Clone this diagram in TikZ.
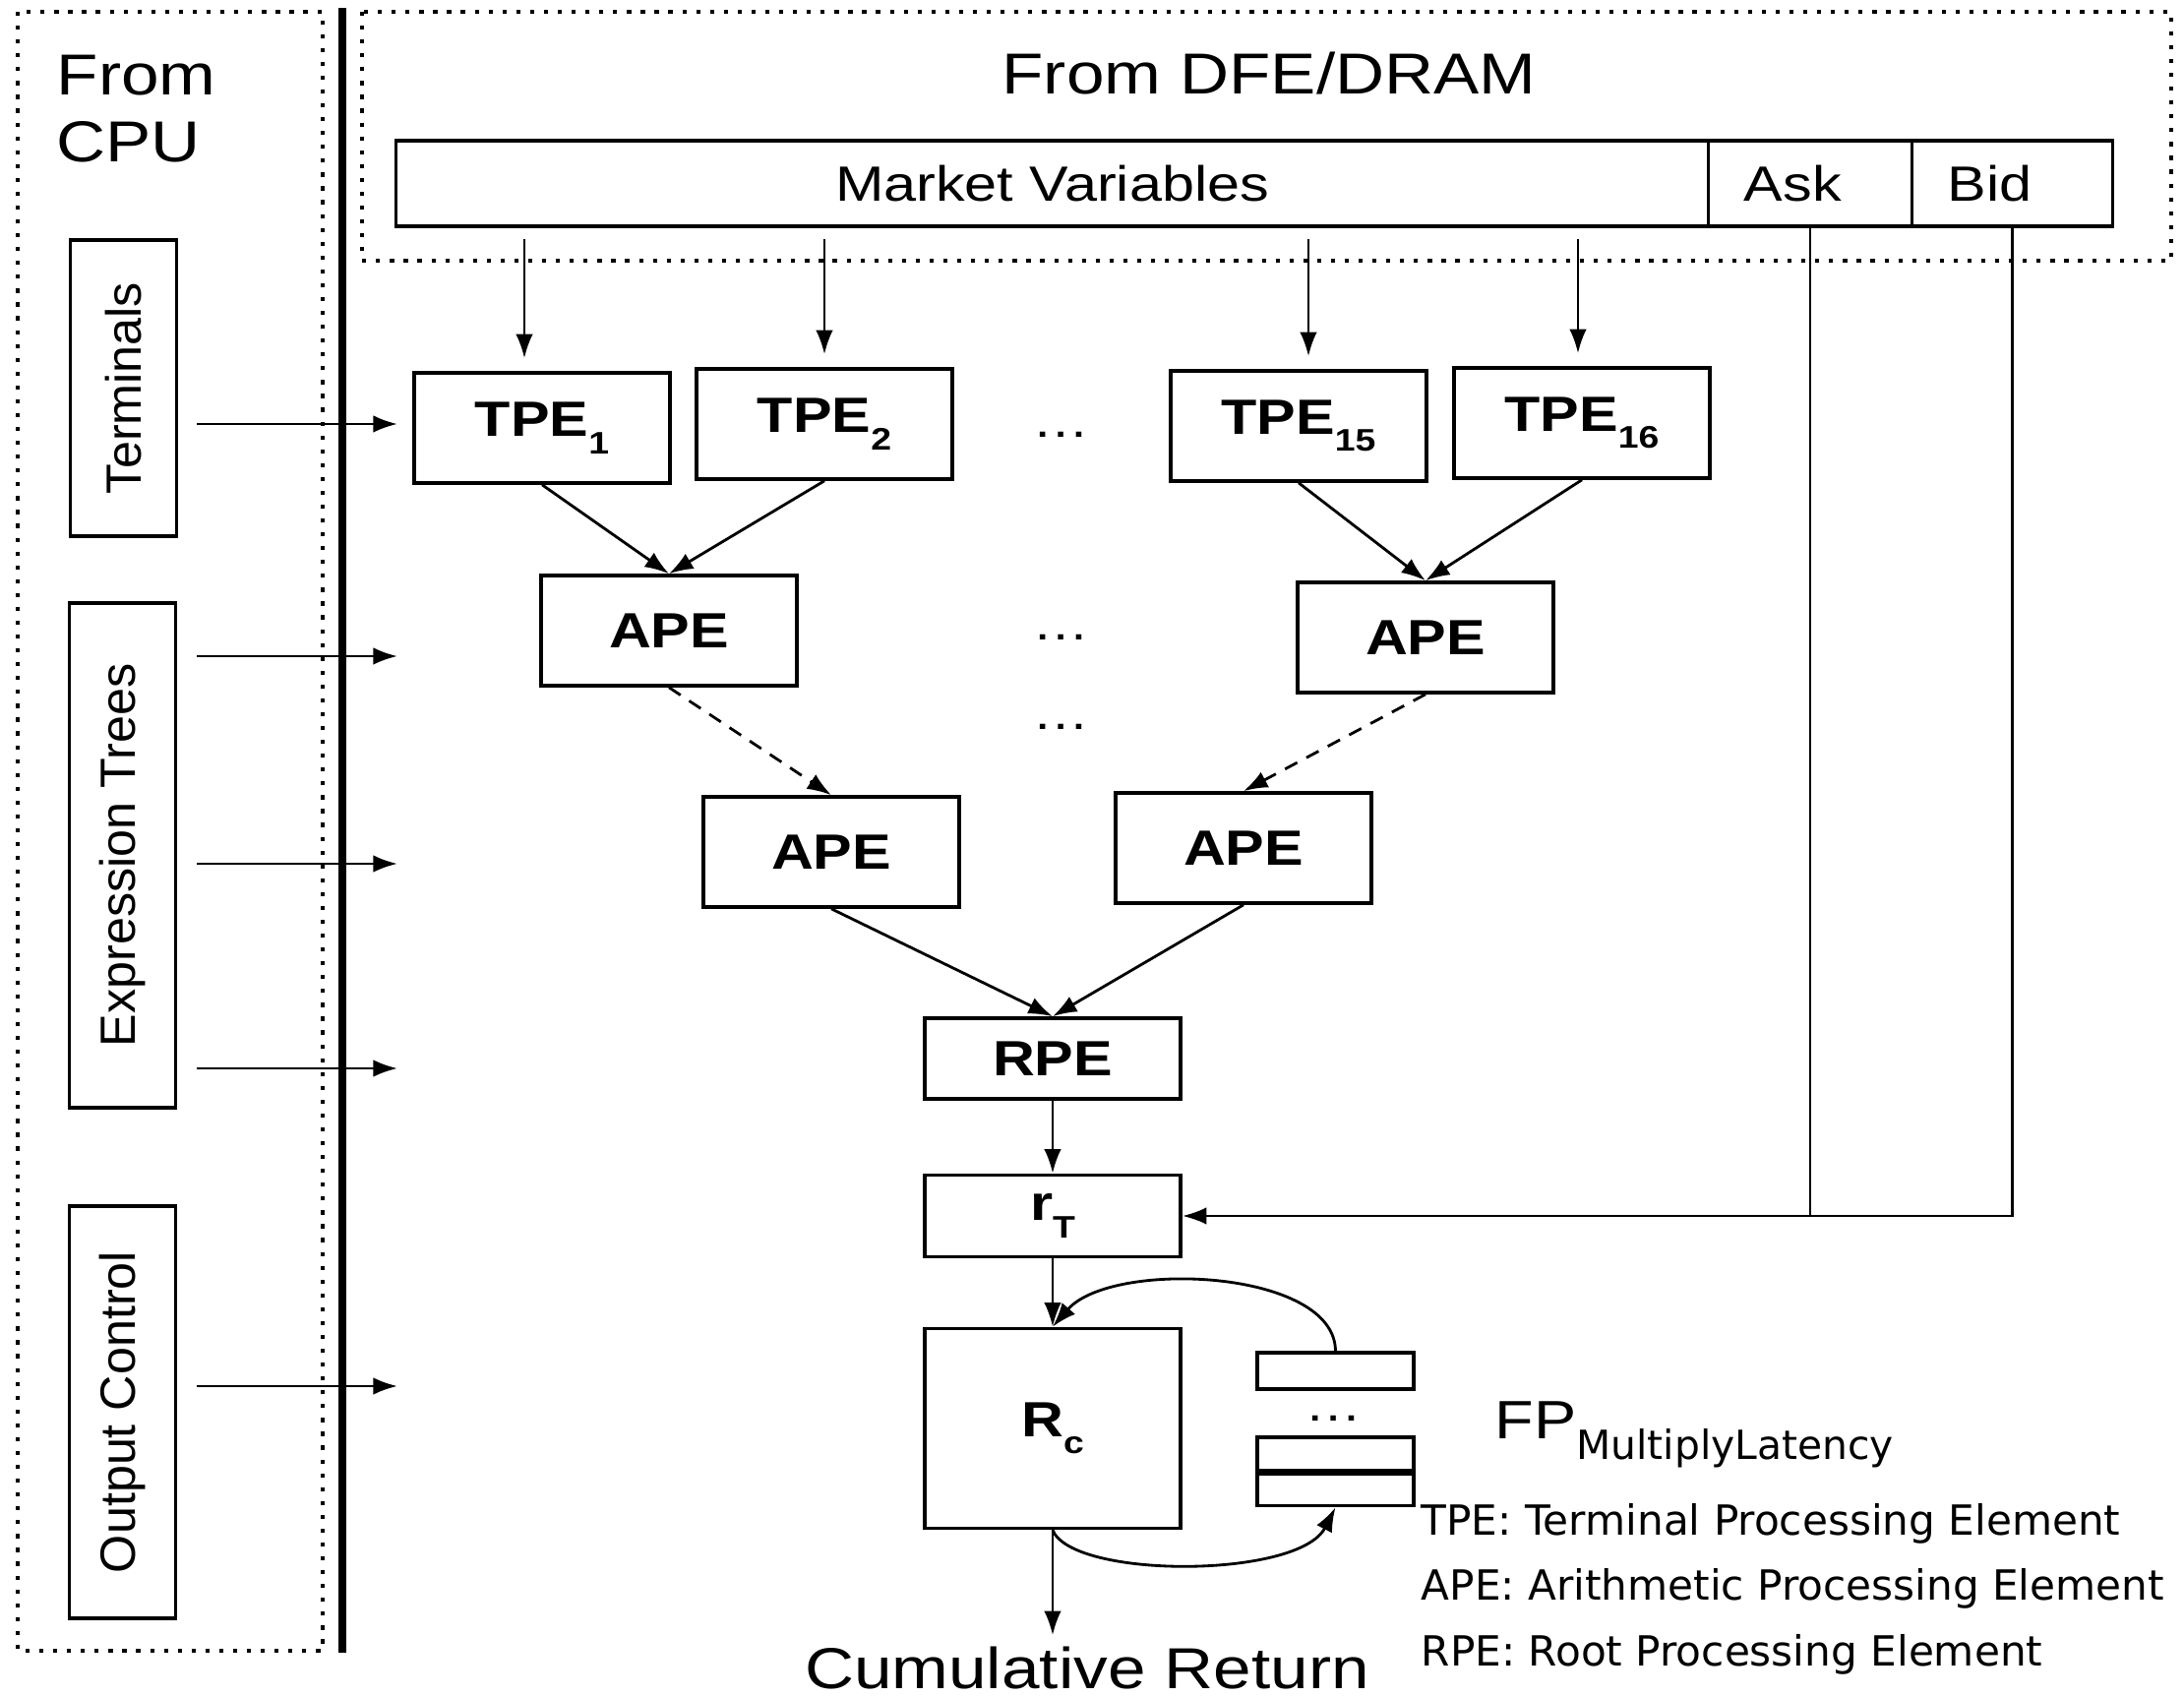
\documentclass[tikz,border=0pt]{standalone}
\usepackage{fontspec}
\setmainfont[FakeStretch=1.18]{Liberation Sans}
\newfontfamily\sidefont{Liberation Sans}
\newfontfamily\notefont{DejaVu Sans}
\usetikzlibrary{arrows.meta,positioning,calc}

% lowered index inside the PE boxes
\newcommand\dn[1]{\raisebox{-5pt}{\fontsize{9}{9}\selectfont #1}}

\tikzset{
  title/.style={font=\fontsize{16.7}{19.6}\selectfont, inner sep=0pt},
  pe/.style={draw, line width=1pt, minimum width=2.6cm, minimum height=1.12cm, inner sep=0pt,
    font=\fontsize{14.3}{16}\selectfont\bfseries},
  src/.style={draw, line width=1pt, minimum height=0.87cm, inner sep=0pt, outer sep=0pt,
    font=\fontsize{14.3}{16}\selectfont},
  side/.style={draw, line width=1pt, minimum height=1.08cm, inner sep=0pt, rotate=90,
    font=\sidefont\fontsize{14.3}{16}\selectfont},
  reg/.style={draw, line width=1pt, minimum width=1.59cm, inner sep=0pt},
  dots/.style={font=\fontsize{14}{16}\selectfont, inner sep=0pt},
  region/.style={line width=1.1pt, dash pattern=on 1.2pt off 2.8pt},
  wire/.style={line width=0.8pt},
  link/.style={line width=0.8pt, -{Latex[length=7pt,width=5pt]}}
}

\begin{document}
\begin{tikzpicture}[x=0.01cm, y=-0.01cm]
\useasboundingbox (0,0) rectangle (2220,1725);

% CPU side, DFE side and the border between them
\draw[region] (18,12) rectangle (328,1678);
\draw[region] (368,12) rectangle (2207,265);
\draw[line width=2pt] (348,8) -- (348,1680);

% base of a two-line node sits on its last line
\node[title, anchor=base west, align=left] (cpu) at (57,165) {From\\CPU};
\node[title, anchor=base] (dfe) at (1290,96) {From DFE/DRAM};

% streamed inputs
\node[src, minimum width=13.33cm] (mv) at (1069.5,186.5) {Market Variables};
\node[src, minimum width=2.07cm, anchor=west] (ask) at (mv.east) {Ask\kern10pt};
\node[src, minimum width=2.04cm, anchor=west] (bid) at (ask.east) {Bid\kern13pt};

% configuration from the host
\node[side, minimum width=3.01cm] (term) at (125.5,394.5) {Terminals};
\node[side, minimum width=5.13cm] (expr) at (124.5,869.5) {Expression Trees};
\node[side, minimum width=4.19cm] (outc) at (124.5,1435.5) {Output Control};

% the expression tree
\node[pe] (tpe1) at (551,435) {TPE\dn{1}};
\node[pe] (tpe2) at (838,431) {TPE\dn{2}};
\node[pe] (tpe15) at (1320,433) {TPE\dn{15}};
\node[pe] (tpe16) at (1608,430) {TPE\dn{16}};
\node[pe] (ape1) at (680,641) {APE};
\node[pe] (ape2) at (1449,648) {APE};
\node[pe] (ape3) at (845,866) {APE};
\node[pe] (ape4) at (1264,862) {APE};
\node[pe, minimum height=0.82cm] (rpe) at (1070,1076) {RPE};
\node[pe, minimum height=0.83cm] (rt) at (1070,1236) {r\dn{T}};
\node[pe, minimum height=2.03cm] (rc) at (1070,1452) {R\dn{c}};

\node[dots] (gap1) at (1079,442) {\dots};
\node[dots] (gap2) at (1079,648) {\dots};
\node[dots] (gap3) at (1079,739) {\dots};

% multiplier pipeline
\node[reg, minimum height=0.37cm] (reg1) at (1357.5,1393.5) {};
\node[reg, minimum height=0.34cm] (reg2) at (1357.5,1478) {};
\node[reg, minimum height=0.32cm, anchor=north] (reg3) at (reg2.south) {};
\node[dots] (gap4) at (1356,1442) {\dots};
\node[anchor=base west, inner sep=0pt] (fp) at (1519,1462)
  {\fontsize{15.6}{18}\selectfont FP\raisebox{-6pt}{\notefont\fontsize{11.6}{14}\selectfont MultiplyLatency}};

\node[title, anchor=base] (cum) at (1105,1716) {Cumulative Return};

\node[anchor=base west, align=left, inner sep=0pt, font=\notefont\fontsize{12}{18.8}\selectfont] (key) at (1444,1693)
  {TPE: Terminal Processing Element\\APE: Arithmetic Processing Element\\RPE: Root Processing Element};

% connectors
\foreach \p/\dx in {tpe1/-18,tpe2/0,tpe15/10,tpe16/-4}
  \draw[link] ($(\p.north |- mv.south)+(\dx,13)$) -- ($(\p.north)+(\dx,-13)$);

\foreach \y [count=\i] in {431,667,878,1086,1409} {
  \coordinate (cin\i) at (200,\y);
  \coordinate (cout\i) at (404,\y);
  \draw[link] (cin\i) -- (cout\i);
}

\draw[link] (tpe1.south) -- (ape1.north);
\draw[link] (tpe2.south) -- (ape1.north);
\draw[link] (tpe15.south) -- (ape2.north);
\draw[link] (tpe16.south) -- (ape2.north);
\draw[link, dash pattern=on 4pt off 3pt] (ape1.south) -- (ape3.north);
\draw[link, dash pattern=on 4pt off 3pt] (ape2.south) -- (ape4.north);
\draw[link] (ape3.south) -- (rpe.north);
\draw[link] (ape4.south) -- (rpe.north);
\draw[link] (rpe) -- (rt);
\draw[link] (rt) -- (rc);

\draw[wire] (ask.south) -- (ask.south |- rt.east);
\draw[link] (bid.south) -- (bid.south |- rt.east) -- (rt.east);

\draw[link] (reg1.north) .. controls (1357,1290) and (1130,1280) .. (rc.north);
\draw[link] (rc.south) .. controls (1090,1605) and (1320,1605) .. (reg3.south);
\draw[link, shorten >=3pt] (rc.south) -- (rc.south |- cum.north);
\end{tikzpicture}
\end{document}
